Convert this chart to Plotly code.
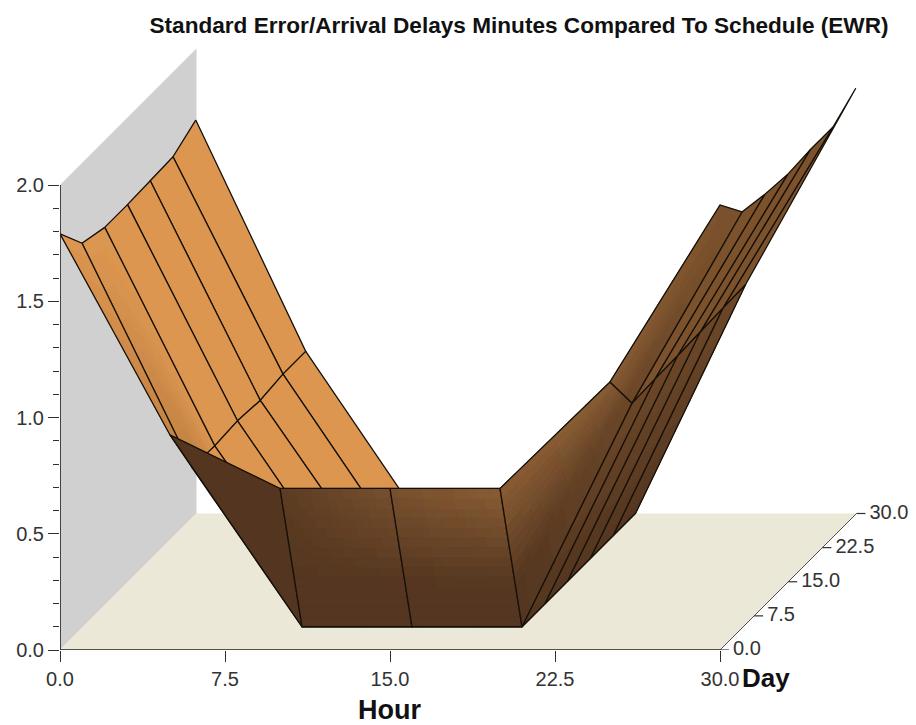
import plotly.graph_objects as go

TITLE = "Standard Error/Arrival Delays Minutes Compared To Schedule (EWR)"
HOUR_LABEL = "Hour"
DAY_LABEL = "Day"

# Surface samples: the front edge row sits on the first hours, every other row on the second.
HOURS_EDGE = [0, 5, 10, 15, 20, 25, 30]
HOURS_GRID = [1, 6, 11, 16, 21, 26, 31]
DAYS = [0, 5, 10, 15, 20, 25]

VALUES_EDGE = [1.79, 0.925, 0.695, 0.695, 0.695, 1.153, 1.914]
VALUES_DAY0 = [1.75, 0.785, 0.10, 0.10, 0.10, 1.062, 1.884]
VALUES_DAY5 = [1.72, 0.780, 0.10, 0.10, 0.10, 1.067, 1.862]
VALUES_DAY10 = [1.72, 0.790, 0.10, 0.10, 0.10, 1.070, 1.849]
VALUES_DAY15 = [1.725, 0.780, 0.10, 0.10, 0.10, 1.075, 1.858]
VALUES_DAY20 = [1.73, 0.795, 0.10, 0.10, 0.10, 1.080, 1.858]
VALUES_DAY25 = [1.79, 0.795, 0.10, 0.10, 0.10, 1.084, 1.927]

HOUR_TICKS = [0, 7.5, 15, 22.5, 30]
DAY_TICKS = [0, 7.5, 15, 22.5, 30]
VALUE_TICKS = [0, 0.5, 1.0, 1.5, 2.0]
VALUE_MINOR = [i / 10 for i in range(21) if i % 5]

# Oblique projection of the day axis onto the hour/value plane
PX_HOUR, PX_VALUE, PX_DAY = 22.0, 232.5, 4.55
L, R, T, B = 60, 0, 0, 75
W, H = 916, 725


def proj(h, d, z):
    return h + d * PX_DAY / PX_HOUR, z + d * PX_DAY / PX_VALUE


ORANGE = (220, 150, 80)
ORANGE_DIM = (196, 130, 68)
DARK = (84, 54, 32)
MID = (108, 71, 40)
LIGHT = (138, 93, 52)
UPPER = (124, 82, 44)

GRID_ROWS = [VALUES_DAY25, VALUES_DAY20, VALUES_DAY15, VALUES_DAY10, VALUES_DAY5, VALUES_DAY0]
GRID_DAYS = list(reversed(DAYS))


def lerp(a, b, t):
    return tuple(a[i] + (b[i] - a[i]) * t for i in range(3))


def colour(c):
    return "rgb(%d,%d,%d)" % tuple(round(v) for v in c)


fig = go.Figure()


def poly(xs, ys, fill, line=None, width=0.0):
    fig.add_trace(go.Scatter(
        x=xs, y=ys, mode="lines", fill="toself", fillcolor=fill,
        line=dict(color=line or fill, width=width), hoverinfo="skip", showlegend=False))


def facet(corners, cols):
    """corners: 4 (h,d,z); cols: 4 colours at those corners."""
    pts = [proj(*c) for c in corners]
    if len(set(cols)) == 1:
        poly([p[0] for p in pts] + [pts[0][0]], [p[1] for p in pts] + [pts[0][1]], colour(cols[0]))
    else:
        n = 14
        groups = {}
        for i in range(n):
            for j in range(n):
                cell = []
                for u, v in ((i / n, j / n), ((i + 1) / n, j / n), ((i + 1) / n, (j + 1) / n), (i / n, (j + 1) / n)):
                    top = (pts[0][0] + (pts[1][0] - pts[0][0]) * u, pts[0][1] + (pts[1][1] - pts[0][1]) * u)
                    bot = (pts[3][0] + (pts[2][0] - pts[3][0]) * u, pts[3][1] + (pts[2][1] - pts[3][1]) * u)
                    cell.append((top[0] + (bot[0] - top[0]) * v, top[1] + (bot[1] - top[1]) * v))
                u, v = (i + 0.5) / n, (j + 0.5) / n
                c = lerp(lerp(cols[0], cols[1], u), lerp(cols[3], cols[2], u), min(1.0, v * 1.4))
                key = tuple(round(x / 3) * 3 for x in c)
                g = groups.setdefault(key, ([], []))
                g[0].extend([p[0] for p in cell] + [cell[0][0], None])
                g[1].extend([p[1] for p in cell] + [cell[0][1], None])
        for key, (xs, ys) in groups.items():
            poly(xs, ys, colour(key), width=1.0)
    fig.add_trace(go.Scatter(
        x=[p[0] for p in pts] + [pts[0][0]], y=[p[1] for p in pts] + [pts[0][1]], mode="lines",
        line=dict(color="#141008", width=1.3), hoverinfo="skip", showlegend=False, cliponaxis=False))


# Walls and floor
wx, wy = zip(*[proj(0, 0, 0), proj(0, 0, 2), proj(0, 30, 2), proj(0, 30, 0), proj(0, 0, 0)])
poly(list(wx), list(wy), "#d0d0d0")
fx, fy = zip(*[proj(0, 0, 0), proj(30, 0, 0), proj(30, 30, 0), proj(0, 30, 0), proj(0, 0, 0)])
poly(list(fx), list(fy), "#ebe8d8")

# Surface, painted back to front
for r in range(len(GRID_ROWS) - 1):
    far, near = GRID_ROWS[r], GRID_ROWS[r + 1]
    d1, d0 = GRID_DAYS[r], GRID_DAYS[r + 1]
    for c in range(len(HOURS_GRID) - 1):
        h0, h1 = HOURS_GRID[c], HOURS_GRID[c + 1]
        corners = [(h0, d1, far[c]), (h1, d1, far[c + 1]), (h1, d0, near[c + 1]), (h0, d0, near[c])]
        if c < 2:
            cols = [ORANGE] * 4
            if d0 == 0 and c == 0:
                cols = [ORANGE, ORANGE, ORANGE_DIM, ORANGE]
        elif c < 4:
            cols = [DARK] * 4
        elif c == 4:
            cols = [DARK, MID, MID, DARK]
        else:
            cols = [UPPER] * 4
        facet(corners, cols)

front_cols = [
    [ORANGE, ORANGE_DIM, ORANGE_DIM, ORANGE],
    [DARK, DARK, DARK, DARK],
    [(92, 60, 34), (120, 80, 46), DARK, DARK],
    [(120, 80, 46), LIGHT, DARK, DARK],
    [LIGHT, LIGHT, MID, DARK],
    [LIGHT, UPPER, UPPER, MID],
]
for c in range(len(HOURS_EDGE) - 1):
    corners = [
        (HOURS_EDGE[c], 0, VALUES_EDGE[c]), (HOURS_EDGE[c + 1], 0, VALUES_EDGE[c + 1]),
        (HOURS_GRID[c + 1], 0, VALUES_DAY0[c + 1]), (HOURS_GRID[c], 0, VALUES_DAY0[c]),
    ]
    facet(corners, front_cols[c])

# Axis lines
axis = dict(mode="lines", line=dict(color="#202020", width=1.6), hoverinfo="skip", showlegend=False, cliponaxis=False)
fig.add_trace(go.Scatter(x=[0, 0], y=[0, 2], **axis))
fig.add_trace(go.Scatter(x=[0, 30], y=[0, 0], **axis))
dx, dy = zip(*[proj(30, d, 0) for d in (0, 30)])
fig.add_trace(go.Scatter(x=list(dx), y=list(dy), mode="lines", line=dict(color="#505050", width=1),
                         hoverinfo="skip", showlegend=False))

# Day axis ticks and labels
tx, ty = [], []
for d in DAY_TICKS:
    x, y = proj(30, d, 0)
    tx += [x, x + 9 / PX_HOUR, None]
    ty += [y, y, None]
fig.add_trace(go.Scatter(x=tx, y=ty, mode="lines", line=dict(color="#303030", width=1.2),
                         hoverinfo="skip", showlegend=False, cliponaxis=False))
lx, ly = zip(*[proj(30, d, 0) for d in DAY_TICKS])
fig.add_trace(go.Scatter(
    x=[v + 13 / PX_HOUR for v in lx], y=list(ly), mode="text", textposition="middle right",
    text=["%.1f" % d for d in DAY_TICKS], textfont=dict(family="Liberation Sans", size=20, color="#333333"),
    hoverinfo="skip", showlegend=False, cliponaxis=False))

fig.update_layout(
    width=W, height=H, autosize=False, paper_bgcolor="white", plot_bgcolor="rgba(0,0,0,0)",
    margin=dict(l=L, r=R, t=T, b=B),
    title=dict(text=TITLE, x=519 / W, xanchor="center", y=1 - 25 / H, yanchor="middle",
               font=dict(family="Liberation Sans", size=22.6, color="#111111", weight="bold")),
    xaxis=dict(range=[0, (W - L - R) / PX_HOUR], tickvals=HOUR_TICKS, ticktext=["%.1f" % v for v in HOUR_TICKS],
               ticks="outside", ticklen=11, tickcolor="#303030", tickwidth=1.3, showgrid=False, zeroline=False,
               showline=False, tickfont=dict(family="Liberation Sans", size=20, color="#333333")),
    yaxis=dict(range=[0, (H - T - B) / PX_VALUE], tickvals=VALUE_TICKS, ticktext=["%.1f" % v for v in VALUE_TICKS],
               ticks="outside", ticklen=11, tickcolor="#303030", tickwidth=1.3, showgrid=False, zeroline=False,
               showline=False, tickfont=dict(family="Liberation Sans", size=20, color="#333333"),
               minor=dict(tickvals=VALUE_MINOR, ticks="outside", ticklen=6, tickcolor="#303030", tickwidth=1.2,
                          showgrid=False)),
    annotations=[
        dict(text=HOUR_LABEL, xref="paper", yref="paper", x=(389 - L) / (W - L - R), y=-(710 - (H - B)) / (H - T - B),
             xanchor="center", yanchor="middle", showarrow=False,
             font=dict(family="Liberation Sans", size=27, color="#111111", weight="bold")),
        dict(text=DAY_LABEL, xref="paper", yref="paper", x=(766 - L) / (W - L - R), y=-(678 - (H - B)) / (H - T - B),
             xanchor="center", yanchor="middle", showarrow=False,
             font=dict(family="Liberation Sans", size=26, color="#111111", weight="bold")),
    ],
)
fig.write_html("out.html", post_script="document.body.style.margin='0';", config={"displayModeBar": False})
